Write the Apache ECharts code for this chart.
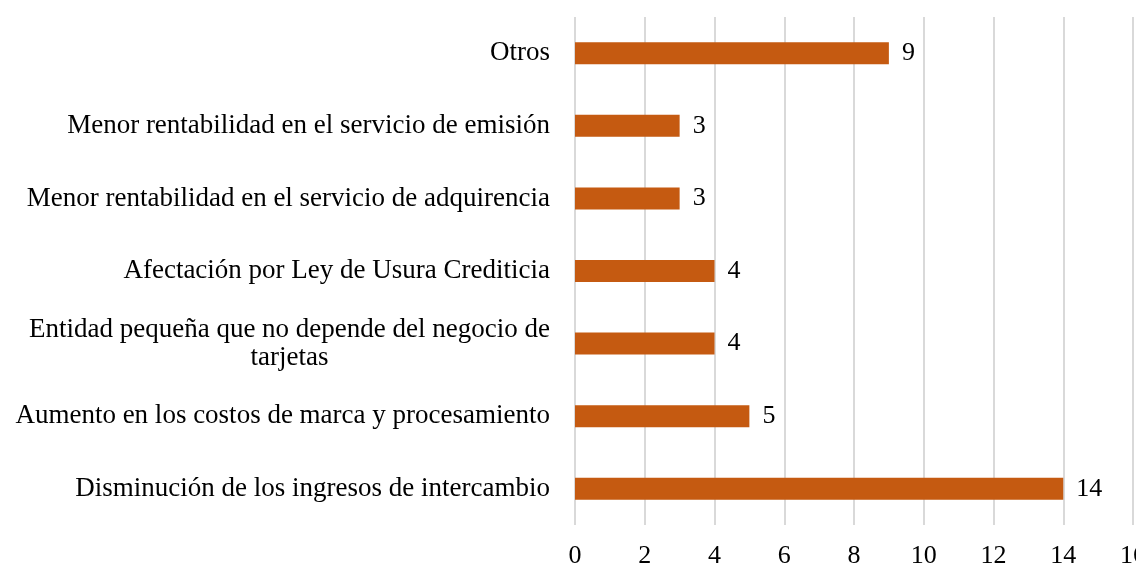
<!DOCTYPE html>
<html lang="es">
<head>
  <meta charset="UTF-8">
  <title>Chart</title>
  <script src="https://cdn.jsdelivr.net/npm/echarts@6/dist/echarts.min.js"></script>
</head>
<body style="margin:0">
  <div id="main" style="width: 1136px; height: 568px;"></div>
  <script>
    // categorias (de abajo hacia arriba)
    const categories = [
      'Disminución de los ingresos de intercambio',
      'Aumento en los costos de marca y procesamiento',
      'Entidad pequeña que no depende del negocio de\ntarjetas',
      'Afectación por Ley de Usura Crediticia',
      'Menor rentabilidad en el servicio de adquirencia',
      'Menor rentabilidad en el servicio de emisión',
      'Otros'
    ]
    const values = [14, 5, 4, 4, 3, 3, 9]
    const xTicks = [0, 2, 4, 6, 8, 10, 12, 14, 16]

    const font = '"Liberation Serif", "Times New Roman", serif'
    const fs = 27
    let chart = echarts.init(document.querySelector('#main'))

    chart.setOption({
      animation: false,
      grid: { left: 575, right: 3, top: 17, bottom: 43, outerBoundsMode: 'none', containLabel: false },
      xAxis: {
        type: 'value',
        min: xTicks[0],
        max: xTicks[xTicks.length - 1],
        interval: 2,
        axisLine: { show: false },
        axisTick: { show: false },
        splitLine: { lineStyle: { color: '#d9d9d9', width: 2 } },
        axisLabel: { color: '#000', fontFamily: font, fontSize: fs - 1, margin: 18, hideOverlap: false }
      },
      yAxis: {
        type: 'category',
        data: categories,
        axisLine: { show: false },
        axisTick: { show: false },
        axisLabel: {
          color: '#000',
          fontFamily: font,
          fontSize: fs,
          margin: 25,
          lineHeight: 28,
          formatter(v) {
            if (v.indexOf('\n') >= 0) {
              return v.split('\n').map(s => '{c|' + s + '}').join('\n')
            }
            return v
          },
          rich: {
            c: { align: 'center', color: '#000', fontFamily: font, fontSize: fs, lineHeight: 28 }
          }
        }
      },
      series: [{
        type: 'bar',
        data: values,
        barWidth: 22,
        itemStyle: { color: '#C55A11' },
        label: {
          show: true,
          position: 'right',
          distance: 13,
          color: '#000',
          fontFamily: font,
          fontSize: fs - 1
        }
      }]
    })
  </script>
</body>
</html>
